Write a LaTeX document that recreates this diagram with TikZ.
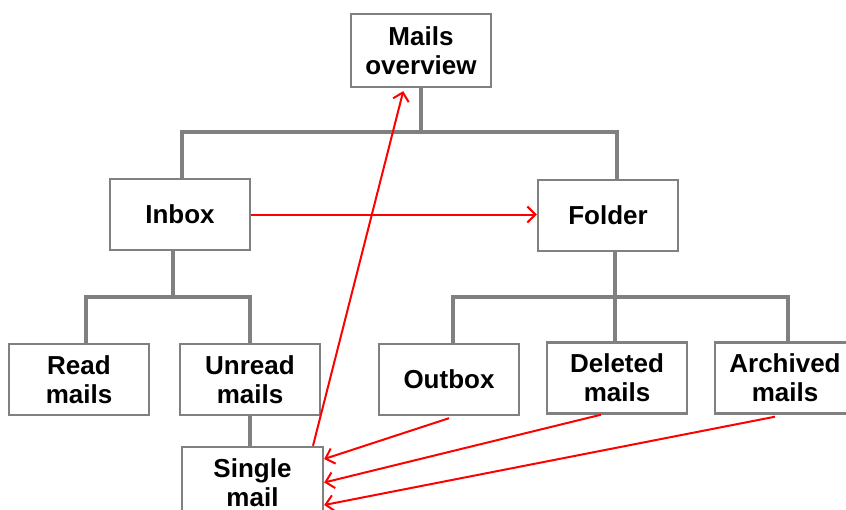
\documentclass[tikz,border=0pt]{standalone}
\usepackage{fontspec}
\setmainfont{Liberation Sans}
\usetikzlibrary{arrows.meta}
\definecolor{boxgray}{RGB}{128,128,128}
\tikzset{
  mbox/.style={draw=boxgray, line width=2.4pt, fill=white, align=center,
    minimum width=140pt, minimum height=71pt, inner sep=0pt,
    font=\fontsize{26}{29}\selectfont\bfseries},
  tree/.style={draw=boxgray, line width=3.5pt},
  redarrow/.style={draw=red, line width=2pt,
    -{Straight Barb[length=8pt, width=16pt, line width=2pt]}},
}
\begin{document}
\begin{tikzpicture}[x=1pt, y=-1pt]
\useasboundingbox (0,0) rectangle (846,509);

% boxes
\node[mbox, minimum height=73pt] (mo) at (421,50.5) {Mails\\overview};
\node[mbox] (inbox) at (180,214.5) {Inbox};
\node[mbox] (folder) at (608,215.5) {Folder};
\node[mbox] (read) at (79,379.5) {Read\\mails};
\node[mbox] (unread) at (250,379.5) {Unread\\mails};
\node[mbox] (outbox) at (449,379.5) {Outbox};
\node[mbox] (deleted) at (617,378) {Deleted\\mails};
\node[mbox] (archived) at (785,378) {Archived\\mails};
\node[mbox, minimum width=141pt] (single) at (252.5,482.5) {Single\\mail};

% tree junctions
\coordinate (b1) at (421,132);
\coordinate (b2) at (173,297);
\coordinate (b3) at (615,297);

% tree connectors
\begin{scope}[on background layer/.try]
\draw[tree] (mo.south) -- (b1);
\draw[tree] ([xshift=2pt]inbox.north) |- (b1) -| ([xshift=9pt]folder.north);
\draw[tree] (inbox.south -| b2) -- (b2);
\draw[tree] ([xshift=7pt]read.north) |- (b2) -| (unread.north);
\draw[tree] (folder.south -| b3) -- (b3) -- (deleted.north -| b3);
\draw[tree] ([xshift=4pt]outbox.north) |- (b3) -| ([xshift=3pt]archived.north);
\draw[tree] (unread.south) -- (unread.south |- single.north);
\end{scope}

% red navigation arrows
\draw[redarrow] (inbox.east) -- (inbox.east -| folder.west);
\draw[redarrow, shorten >=3pt] ([xshift=60.5pt]single.north) -- ([xshift=-17pt]mo.south);
\draw[redarrow] ([yshift=-2pt]outbox.south) -- ([yshift=23.5pt]single.east);
\draw[redarrow] ([xshift=-16pt]deleted.south) -- (single.east);
\draw[redarrow] ([xshift=-10pt,yshift=-2pt]archived.south) -- ([yshift=-22.5pt]single.east);
\end{tikzpicture}
\end{document}
